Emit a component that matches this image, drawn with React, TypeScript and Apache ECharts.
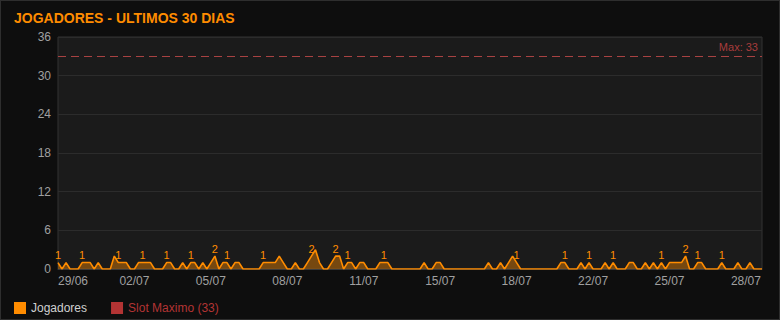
import React, { useEffect, useRef } from "react";
import * as echarts from "echarts";

const TITLE = "JOGADORES - ULTIMOS 30 DIAS";
const TICK_LABELS = ["29/06", "02/07", "05/07", "08/07", "11/07", "15/07", "18/07", "22/07", "25/07", "28/07"];
const TICK_STEP = 19;
const PLAYERS = [
  1, 0, 1, 0, 0, 0, 1, 1, 1, 0,
  1, 0, 0, 0, 2, 1, 1, 1, 0, 0,
  1, 1, 1, 1, 0, 0, 0, 1, 1, 0,
  0, 1, 0, 1, 1, 0, 1, 0, 1, 2,
  0, 1, 1, 0, 1, 1, 0, 0, 0, 0,
  0, 1, 1, 1, 1, 2, 1, 0, 0, 1,
  0, 0, 1, 2, 3, 1, 0, 0, 1, 2,
  2, 0, 1, 1, 0, 1, 1, 0, 0, 0,
  1, 1, 1, 0, 0, 0, 0, 0, 0, 0,
  0, 1, 0, 0, 1, 1, 0, 0, 0, 0,
  0, 0, 0, 0, 0, 0, 0, 1, 0, 0,
  1, 0, 1, 2, 1, 0, 0, 0, 0, 0,
  0, 0, 0, 0, 0, 1, 1, 0, 0, 0,
  1, 0, 1, 0, 0, 0, 1, 0, 1, 0,
  0, 0, 1, 1, 0, 0, 1, 0, 1, 0,
  1, 0, 1, 1, 1, 1, 2, 0, 0, 1,
  1, 0, 0, 0, 0, 1, 0, 0, 0, 1,
  0, 0, 1, 0, 0, 0,
];
const LABELLED = [0, 6, 15, 21, 27, 33, 39, 42, 51, 63, 69, 72, 81, 114, 126, 132, 138, 150, 156, 159, 165];
const SLOT_MAX = 33;
const Y_TICKS = [0, 6, 12, 18, 24, 30, 36];

const ORANGE = "#ff8c00";
const RED = "#b33434";
const FONT = "'Liberation Sans', Arial, sans-serif";

export default function App() {
  const ref = useRef<HTMLDivElement>(null);
  useEffect(() => {
    if (!ref.current) return;
    const chart = echarts.init(ref.current, null, { renderer: "svg" });
    const categories = PLAYERS.map((_, i) =>
      i % TICK_STEP === 0 && TICK_LABELS[i / TICK_STEP] ? TICK_LABELS[i / TICK_STEP] : String(i)
    );
    const data = PLAYERS.map((v, i) =>
      LABELLED.includes(i) ? { value: v, label: { show: true } } : { value: v }
    );
    chart.setOption({
      animation: false,
      backgroundColor: "#0e0e0e",
      textStyle: { fontFamily: FONT },
      title: {
        text: TITLE,
        left: 13,
        top: 10,
        padding: 0,
        textStyle: { color: ORANGE, fontSize: 14, fontWeight: "bold", fontFamily: FONT },
      },
      legend: {
        left: 13,
        bottom: 5,
        padding: 0,
        itemWidth: 12,
        itemHeight: 12,
        itemGap: 24,
        icon: "rect",
        data: [
          { name: "Jogadores", itemStyle: { color: ORANGE }, textStyle: { color: "#d0d0d0" } },
          { name: "Slot Maximo (33)", itemStyle: { color: RED }, textStyle: { color: RED } },
        ],
        textStyle: { fontSize: 12, fontFamily: FONT },
      },
      grid: {
        left: 57,
        right: 17,
        top: 36,
        bottom: 50,
        show: true,
        backgroundColor: "#1b1b1b",
        borderColor: "#333333",
        borderWidth: 1,
      },
      xAxis: {
        type: "category",
        data: categories,
        boundaryGap: false,
        axisLine: { show: true, lineStyle: { color: "#3a3a3a" } },
        axisTick: { show: false },
        splitLine: { show: false },
        axisLabel: {
          interval: TICK_STEP - 1,
          color: "#a0a0a0",
          fontSize: 12,
          margin: 6,
          alignMinLabel: "left",
          fontFamily: FONT,
        },
      },
      yAxis: {
        type: "value",
        min: Y_TICKS[0],
        max: Y_TICKS[Y_TICKS.length - 1],
        interval: Y_TICKS[1] - Y_TICKS[0],
        axisLine: { show: false },
        axisTick: { show: false },
        splitLine: { lineStyle: { color: "#2c2c2c", width: 1 } },
        axisLabel: { color: "#a0a0a0", fontSize: 12, margin: 7, fontFamily: FONT },
      },
      series: [
        {
          name: "Jogadores",
          type: "line",
          data,
          symbol: "circle",
          symbolSize: 0.1,
          showAllSymbol: true,
          color: ORANGE,
          lineStyle: { color: ORANGE, width: 1.6 },
          areaStyle: { color: ORANGE, opacity: 0.4 },
          itemStyle: { color: ORANGE },
          label: {
            show: false,
            position: "top",
            distance: 2,
            color: ORANGE,
            fontSize: 11,
            fontFamily: FONT,
          },
          z: 3,
        },
        {
          name: "Slot Maximo (33)",
          type: "line",
          data: [],
          color: RED,
          markLine: {
            silent: true,
            symbol: ["none", "none"],
            data: [{ yAxis: SLOT_MAX }],
            lineStyle: { color: "#a84242", type: [8, 5], width: 1, opacity: 1 },
            label: {
              formatter: "Max: " + SLOT_MAX,
              position: "insideEndTop",
              color: "#a83c3c",
              fontSize: 11,
              fontFamily: FONT,
              distance: 4,
            },
          },
        },
      ],
    });
    return () => chart.dispose();
  }, []);
  return (
    <div
      style={{
        position: "fixed",
        left: 0,
        top: 0,
        width: 780,
        height: 320,
        boxSizing: "border-box",
        border: "1px solid #2e2e2e",
        background: "#0e0e0e",
      }}
    >
      <div ref={ref} style={{ width: 778, height: 318 }} />
    </div>
  );
}
